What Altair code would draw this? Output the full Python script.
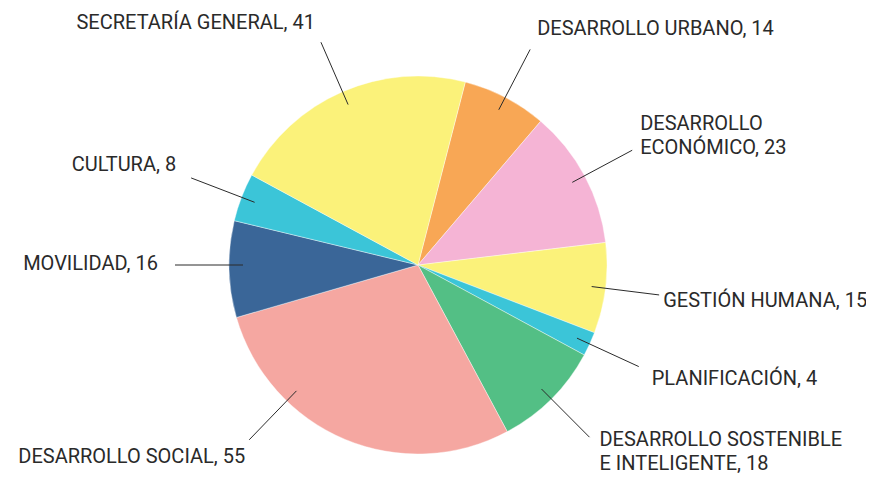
import math
import altair as alt
import pandas as pd

# ---- data ----
categories = [
    "DESARROLLO URBANO",
    "DESARROLLO ECONÓMICO",
    "GESTIÓN HUMANA",
    "PLANIFICACIÓN",
    "DESARROLLO SOSTENIBLE E INTELIGENTE",
    "DESARROLLO SOCIAL",
    "MOVILIDAD",
    "CULTURA",
    "SECRETARÍA GENERAL",
]
values = [14, 23, 15, 4, 18, 55, 16, 8, 41]
label_names = [
    "DESARROLLO URBANO",
    "DESARROLLO\nECONÓMICO",
    "GESTIÓN HUMANA",
    "PLANIFICACIÓN",
    "DESARROLLO SOSTENIBLE\nE INTELIGENTE",
    "DESARROLLO SOCIAL",
    "MOVILIDAD",
    "CULTURA",
    "SECRETARÍA GENERAL",
]
colors = ["#F8A755", "#F5B4D5", "#FBF27A", "#3BC5D8", "#53BF85",
          "#F5A7A1", "#3A6698", "#3BC5D8", "#FBF27A"]

# ---- layout ----
W, H = 858, 467
CX, CY = 410, 257          # pie centre in plot pixels
R = 189
R_IN, R_OUT = 175, 243
START = math.radians(14.5)
# label angle overrides (degrees, clockwise from top)
angle_override = {"DESARROLLO SOCIAL": 224.0, "MOVILIDAD": 270.0}
# text placement relative to the outer end of the leader line: (align, dx, dy of first baseline)
text_place = {
    "DESARROLLO URBANO": ("left", 7, -14),
    "DESARROLLO ECONÓMICO": ("left", 8, -20),
    "GESTIÓN HUMANA": ("left", 4, 12),
    "PLANIFICACIÓN": ("left", 13, 18),
    "DESARROLLO SOSTENIBLE E INTELIGENTE": ("left", 10, 9),
    "DESARROLLO SOCIAL": ("right", -4, 23),
    "MOVILIDAD": ("right", -17, 5),
    "CULTURA": ("right", -15, -7),
    "SECRETARÍA GENERAL": ("right", -6, -13),
}

total = sum(values)
pie_df = pd.DataFrame({"cat": categories, "value": values, "order": list(range(len(values)))})

rows_line, rows_text = [], []
cum = 0.0
for cat, v, name in zip(categories, values, label_names):
    mid = math.degrees(START) + (cum + v / 2) / total * 360.0
    cum += v
    ang = math.radians(angle_override.get(cat, mid))
    sx, sy = math.sin(ang), math.cos(ang)
    x1, y1 = R_IN * sx, R_IN * sy
    x2, y2 = R_OUT * sx, R_OUT * sy
    rows_line.append({"cat": cat, "x": x1, "y": y1, "x2": x2, "y2": y2})
    align, dx, dy = text_place[cat]
    rows_text.append({"cat": cat, "label": f"{name}, {v}", "align": align,
                      "x": x2 + dx, "y": y2 - dy})

line_df = pd.DataFrame(rows_line)
text_df = pd.DataFrame(rows_text)

xscale = alt.Scale(domain=[-CX, W - CX], nice=False, zero=False)
yscale = alt.Scale(domain=[-(H - CY), CY], nice=False, zero=False)

pie = alt.Chart(pie_df).mark_arc(outerRadius=R, stroke="white", strokeWidth=0.4).encode(
    theta=alt.Theta("value:Q", stack=True, scale=alt.Scale(range=[START, START + 2 * math.pi])),
    order=alt.Order("order:Q"),
    color=alt.Color("cat:N", scale=alt.Scale(domain=categories, range=colors), legend=None),
    x=alt.value(CX),
    y=alt.value(CY),
)

leaders = alt.Chart(line_df).mark_rule(color="#2b2b2b", strokeWidth=1).encode(
    x=alt.X("x:Q", scale=xscale, axis=None),
    y=alt.Y("y:Q", scale=yscale, axis=None),
    x2="x2:Q",
    y2="y2:Q",
)

def text_layer(al):
    return alt.Chart(text_df).transform_filter(alt.datum.align == al).mark_text(
        align=al, baseline="alphabetic", font="Roboto", fontSize=20,
        lineBreak="\n", lineHeight=23.5, color="#2a2a2a",
    ).encode(
        x=alt.X("x:Q", scale=xscale, axis=None),
        y=alt.Y("y:Q", scale=yscale, axis=None),
        text="label:N",
    )

chart = alt.layer(pie, leaders, text_layer("left"), text_layer("right")).properties(
    width=W, height=H, padding=0, autosize=alt.AutoSizeParams(type="none")
).configure_view(stroke=None)

chart.save("out.html", embed_options={"renderer": "svg", "actions": False})
